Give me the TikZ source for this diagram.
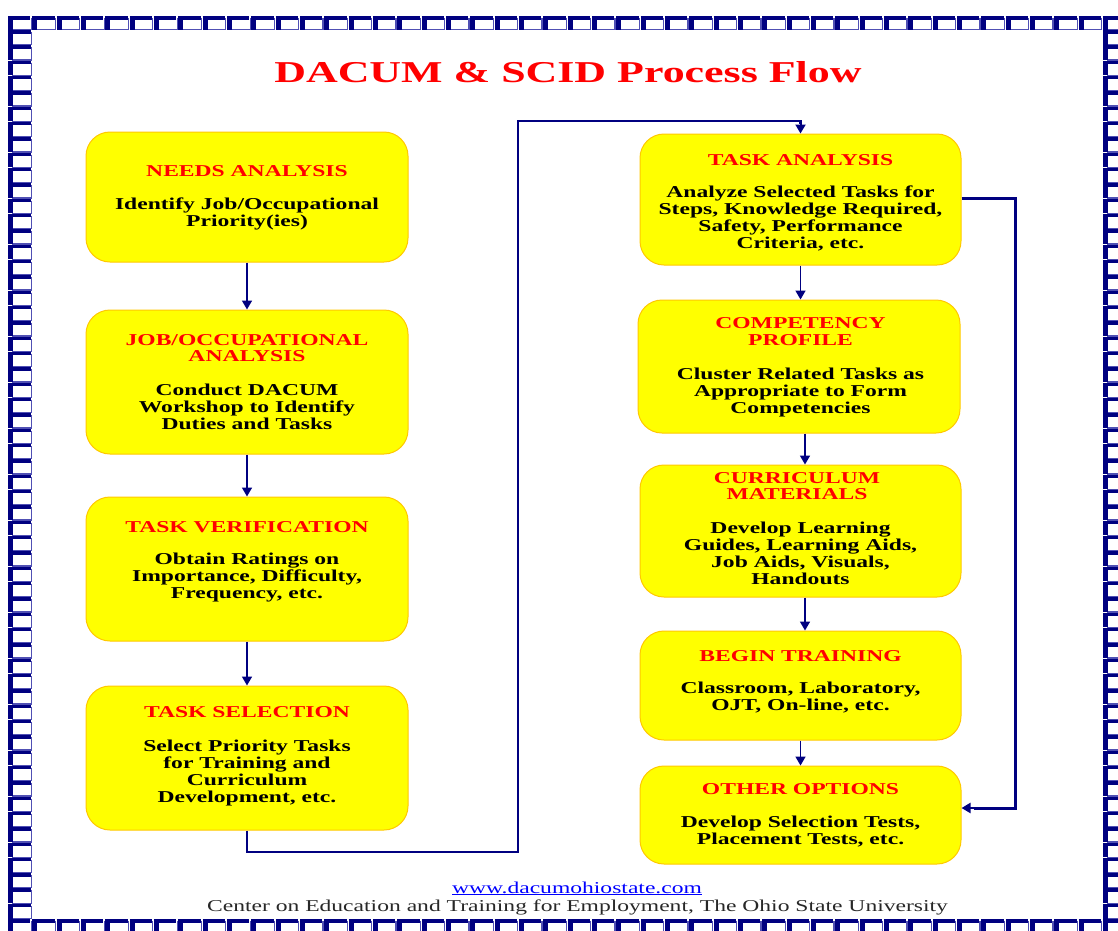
\documentclass[tikz,border=0pt]{standalone}
\usepackage{fontspec}
\setmainfont{Liberation Serif}[FakeStretch=1.42]
\newfontfamily\titlefont{Liberation Serif}[FakeStretch=1.45]
\usetikzlibrary{arrows.meta}
\definecolor{navyline}{RGB}{0,0,128}
\definecolor{thinblue}{RGB}{80,80,180}
\definecolor{boxedge}{RGB}{255,200,0}
\definecolor{boxfill}{RGB}{255,255,0}
\definecolor{titlered}{RGB}{255,0,0}
\definecolor{footgray}{RGB}{40,40,40}
\definecolor{linkblue}{RGB}{0,0,255}
\newcommand\borderunit[4]{%
  \draw[thinblue, line width=1.2pt] (#1+#3-1.2,#2+2) -- (#1+#3-1.2,#2+#4-0.6) -- (#1+4,#2+#4-0.6);
  \draw[navyline, line width=5pt] (#1+2.5,#2+#4-0.5) -- (#1+2.5,#2);
  \draw[navyline, line width=3.5pt] (#1,#2+1.75) -- (#1+#3-2,#2+1.75);
}
\begin{document}
\begin{tikzpicture}[x=1pt,y=-1pt,
  flowbox/.style={draw=boxedge, line width=1pt, fill=boxfill, rounded corners=24pt, inner sep=0pt},
  headtext/.style={text=titlered, font=\fontsize{16.6}{16.5}\selectfont\bfseries, align=center, inner sep=0pt},
  bodytext/.style={text=black, font=\fontsize{16.6}{17}\selectfont\bfseries, align=center, inner sep=0pt},
  flowarrow/.style={draw=navyline, line width=1.6pt, -{Triangle[width=10pt,length=9pt]}},
  longline/.style={draw=navyline, line width=2.2pt, line join=miter},
]
\useasboundingbox (0,0) rectangle (1118,930);
\fill[white] (0,0) rectangle (1118,930);

% decorative border
\begin{scope}
\clip (0,0) rectangle (1118,930);
\foreach \i in {0,...,45} {
  \pgfmathsetmacro\xa{8+\i*24.33}
  \borderunit{\xa}{16}{24.33}{14}
  \borderunit{\xa}{919}{24.33}{14}
}
\foreach \j in {0,...,57} {
  \pgfmathsetmacro\ya{30+\j*15.33}
  \borderunit{8}{\ya}{25}{15.33}
  \borderunit{1103}{\ya}{25}{15.33}
}
\end{scope}

% title
\node[text=titlered, font=\titlefont\fontsize{30.3}{30}\selectfont\bfseries, inner sep=0pt] (title) at (568,72) {DACUM \& SCID Process Flow};

% boxes
\node[flowbox, minimum width=322pt, minimum height=130pt] (b1) at (247,197) {};
\node[flowbox, minimum width=322pt, minimum height=144pt] (b2) at (247,382) {};
\node[flowbox, minimum width=322pt, minimum height=144pt] (b3) at (247,569) {};
\node[flowbox, minimum width=322pt, minimum height=144pt] (b4) at (247,758) {};
\node[flowbox, minimum width=321pt, minimum height=131pt] (b5) at (800.5,199.5) {};
\node[flowbox, minimum width=322pt, minimum height=133pt] (b6) at (799,366.5) {};
\node[flowbox, minimum width=321pt, minimum height=132pt] (b7) at (800.5,531) {};
\node[flowbox, minimum width=321pt, minimum height=109pt] (b8) at (800.5,685.5) {};
\node[flowbox, minimum width=321pt, minimum height=98pt] (b9) at (800.5,815) {};

% box texts
\node[headtext] (h1) at (247,171) {NEEDS ANALYSIS};
\node[bodytext] (d1) at (247,213.5) {Identify Job/Occupational\\Priority(ies)};
\node[headtext] (h2) at (247,348) {JOB/OCCUPATIONAL\\ANALYSIS};
\node[bodytext] (d2) at (247,407) {Conduct DACUM\\Workshop to Identify\\Duties and Tasks};
\node[headtext] (h3) at (247,527) {TASK VERIFICATION};
\node[bodytext] (d3) at (247,578) {Obtain Ratings on\\Importance, Difficulty,\\Frequency, etc.};
\node[headtext] (h4) at (247,712) {TASK SELECTION};
\node[bodytext] (d4) at (247,772.5) {Select Priority Tasks\\for Training and\\Curriculum\\Development, etc.};
\node[headtext] (h5) at (800.5,160) {TASK ANALYSIS};
\node[bodytext] (d5) at (800.5,218.5) {Analyze Selected Tasks for\\Steps, Knowledge Required,\\Safety, Performance\\Criteria, etc.};
\node[headtext] (h6) at (800.5,331.5) {COMPETENCY\\PROFILE};
\node[bodytext] (d6) at (800.5,392) {Cluster Related Tasks as\\Appropriate to Form\\Competencies};
\node[headtext] (h7) at (797,486) {CURRICULUM\\MATERIALS};
\node[bodytext] (d7) at (800.5,553.5) {Develop Learning\\Guides, Learning Aids,\\Job Aids, Visuals,\\Handouts};
\node[headtext] (h8) at (800.5,656) {BEGIN TRAINING};
\node[bodytext] (d8) at (800.5,697.5) {Classroom, Laboratory,\\OJT, On-line, etc.};
\node[headtext] (h9) at (800.5,789) {OTHER OPTIONS};
\node[bodytext] (d9) at (800.5,831.5) {Develop Selection Tests,\\Placement Tests, etc.};

% arrows
\draw[flowarrow] (b1.south) -- (b2.north);
\draw[flowarrow] (b2.south) -- (b3.north);
\draw[flowarrow] (b3.south) -- (b4.north);
\draw[flowarrow] (b5.south) -- (b5.south |- b6.north);
\draw[flowarrow] ([xshift=6pt]b6.south) -- ([xshift=4.5pt]b7.north);
\draw[flowarrow] ([xshift=4.5pt]b7.south) -- ([xshift=4.5pt]b8.north);
\draw[flowarrow] (b8.south) -- (b9.north);

\coordinate (c1) at (518,852);
\coordinate (c2) at (518,121);
\draw[longline] (b4.south) |- (c1) -- (c2) -| ([yshift=10pt]b5.north);
\draw[flowarrow, line width=2pt] ([yshift=10.5pt]b5.north) -- (b5.north);

\coordinate (c3) at (1015,198);
\coordinate (c4) at (1015,808);
\draw[longline, line width=3pt] (b5.east |- c3) -- (c3) -- (c4) -- ([xshift=12pt]b9.east |- c4);
\draw[flowarrow, line width=2.4pt] ([xshift=12.5pt]b9.east |- c4) -- (b9.east |- c4);

% footer
\node[text=linkblue, font=\fontsize{16.6}{17}\selectfont, inner sep=0pt, anchor=base] (url) at (577,893) {\underline{www.dacumohiostate.com}};
\node[text=footgray, font=\fontsize{16.6}{17}\selectfont, inner sep=0pt, anchor=base] (cet) at (577.5,911) {Center on Education and Training for Employment, The Ohio State University};
\end{tikzpicture}
\end{document}
